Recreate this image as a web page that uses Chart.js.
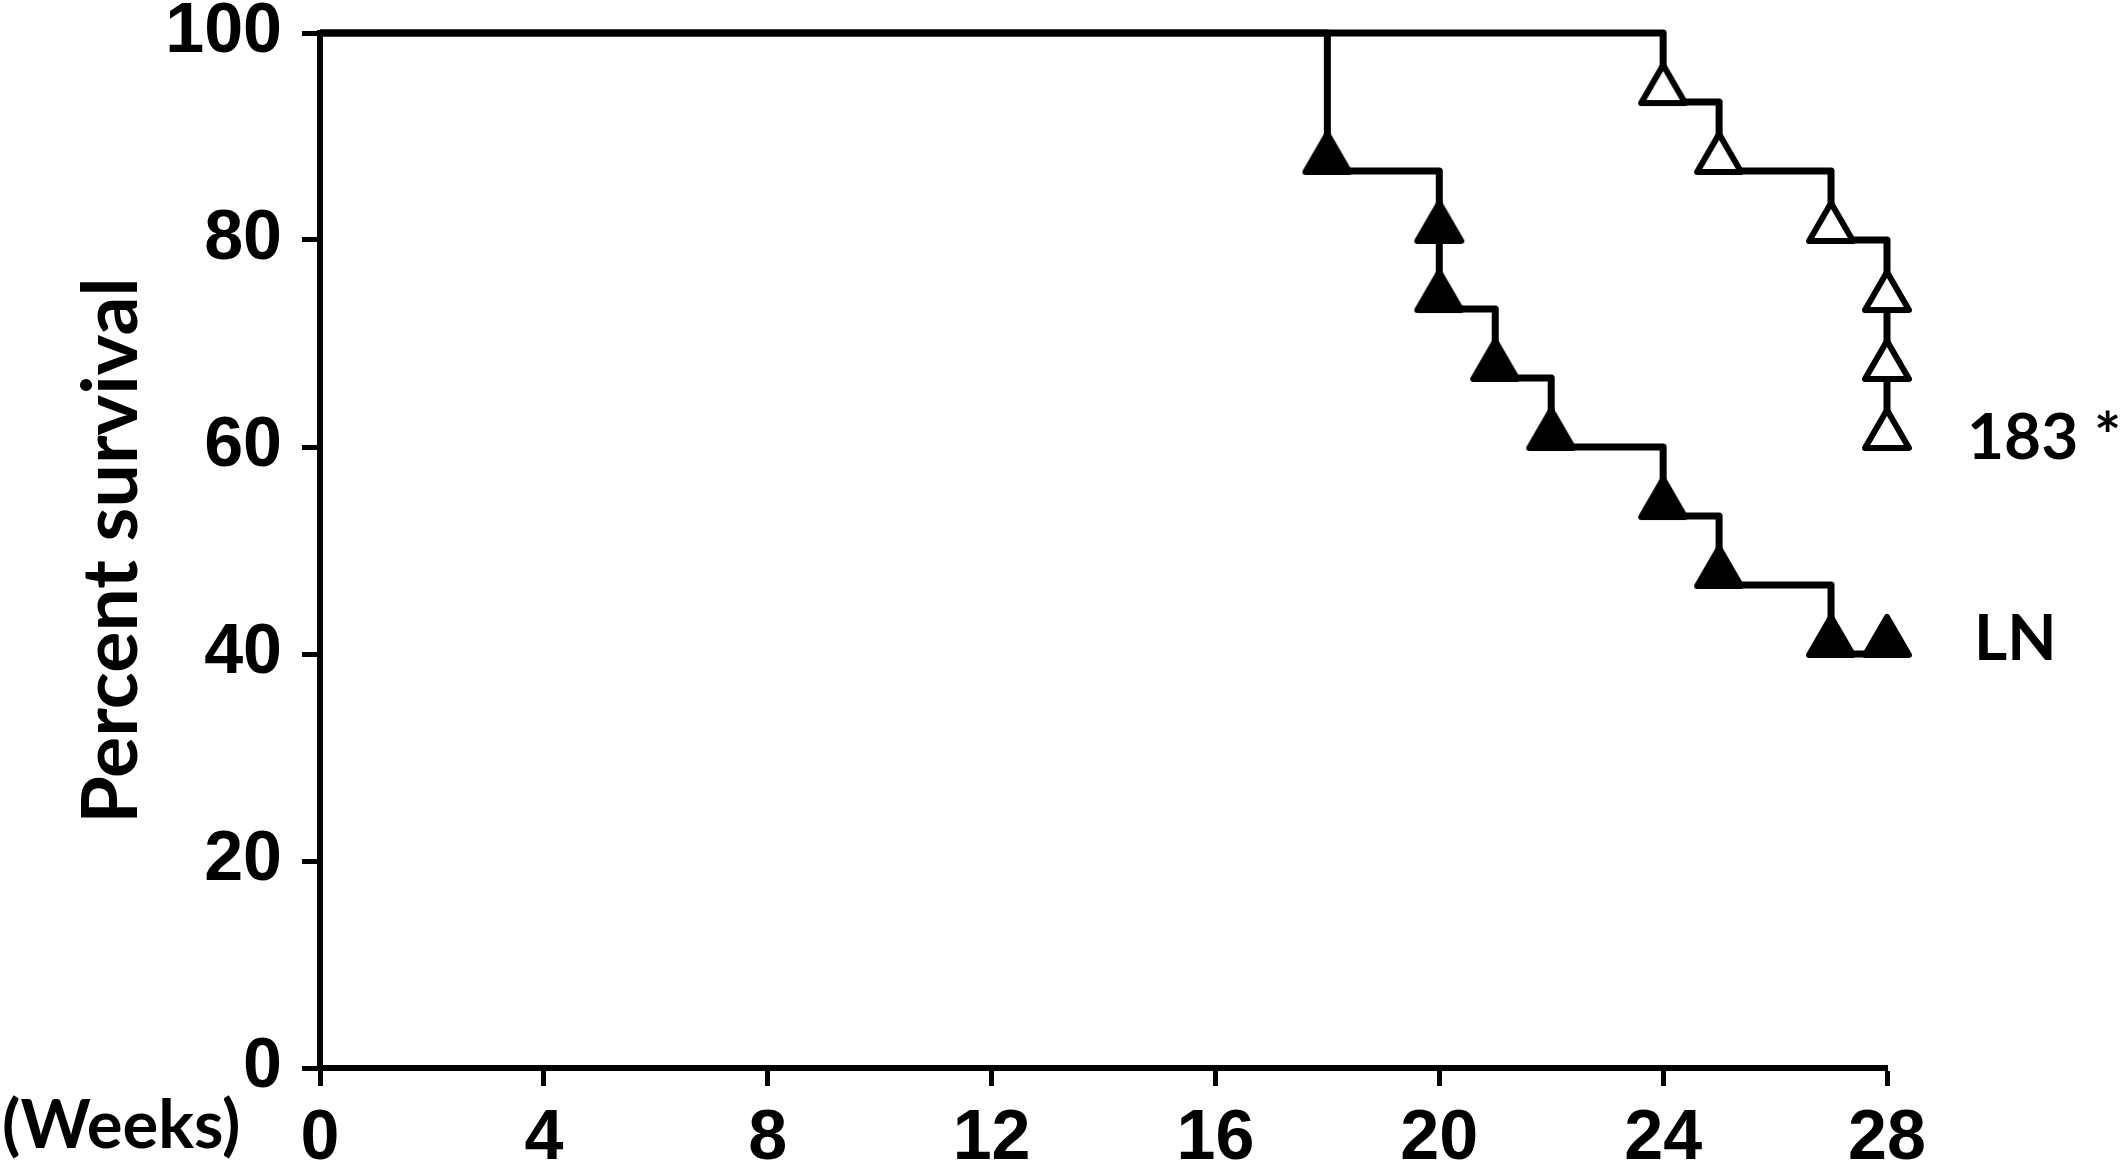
<!DOCTYPE html>
<html>
<head>
<meta charset="utf-8">
<script src="https://cdn.jsdelivr.net/npm/chart.js@4.4.1/dist/chart.umd.min.js"></script>
<style>
  html, body { margin: 0; padding: 0; background: #fff; }
</style>
</head>
<body>
<canvas id="survivalChart" width="2128" height="1172"></canvas>
<script>
// Kaplan-Meier steps: week of each event and percent survival after it
const weeksLN = [0, 18, 20, 20, 21, 22, 24, 25, 27, 28];
const survivalLN = [100, 86.67, 80, 73.33, 66.67, 60, 53.33, 46.67, 40, 40];
const weeks183 = [0, 24, 25, 27, 28, 28, 28];
const survival183 = [100, 93.33, 86.67, 80, 73.33, 66.67, 60];

// Axis ticks and labels
const xTicks = [0, 4, 8, 12, 16, 20, 24, 28];
const yTicks = [0, 20, 40, 60, 80, 100];
const seriesNames = ['183 *', 'LN'];

// Triangle symbol whose base sits on the point (like GraphPad)
function makeTriangle(filled) {
    const c = document.createElement('canvas');
    c.width = 60;
    c.height = 98;
    const g = c.getContext('2d');
    const cx = c.width / 2;
    const base = c.height / 2 + 1;
    const side = 44;
    g.beginPath();
    g.moveTo(cx, base - side * 0.866);
    g.lineTo(cx + side / 2, base);
    g.lineTo(cx - side / 2, base);
    g.closePath();
    g.lineJoin = 'round';
    g.lineWidth = 6;
    g.fillStyle = filled ? '#000' : '#fff';
    g.strokeStyle = '#000';
    g.fill();
    g.stroke();
    return c;
}

const toPoints = (xs, ys) => xs.map((x, i) => ({ x: x, y: ys[i] }));

// Series names written at the end of each curve
const endLabels = {
    id: 'endLabels',
    afterDraw(chart) {
        const { ctx, scales } = chart;
        const ends = [
            [weeks183[weeks183.length - 1], survival183[survival183.length - 1], 80, -9],
            [weeksLN[weeksLN.length - 1], survivalLN[survivalLN.length - 1], 87, -15]
        ];
        ctx.save();
        ctx.fillStyle = '#000';
        ctx.font = 'bold 64px Lato';
        ctx.textBaseline = 'middle';
        ctx.textAlign = 'left';
        ends.forEach((e, i) => {
            const px = scales.x.getPixelForValue(e[0]) + e[2];
            const py = scales.y.getPixelForValue(e[1]) + e[3];
            ctx.fillText(seriesNames[i], px, py);
        });
        // unit label left of the x tick labels
        ctx.font = 'bold 67px Lato';
        ctx.fillText('(Weeks)', 2, scales.y.getPixelForValue(0) + 58);
        ctx.restore();
    }
};

const tickFont = { family: 'Liberation Sans', weight: 'bold', size: 70 };
const axisGrid = {
    display: true,
    drawOnChartArea: false,
    drawTicks: true,
    tickLength: 18,
    tickWidth: 5,
    tickColor: '#000',
    color: '#000'
};

new Chart(document.getElementById('survivalChart'), {
    type: 'line',
    data: {
        datasets: [
            {
                data: toPoints(weeksLN, survivalLN),
                stepped: true,
                borderColor: '#000',
                borderWidth: 7,
                borderJoinStyle: 'round',
                fill: false,
                pointStyle: makeTriangle(true),
                pointRadius: ctx => ctx.dataIndex === 0 ? 0 : 20,
                clip: false
            },
            {
                data: toPoints(weeks183, survival183),
                stepped: true,
                borderColor: '#000',
                borderWidth: 7,
                borderJoinStyle: 'round',
                fill: false,
                pointStyle: makeTriangle(false),
                pointRadius: ctx => ctx.dataIndex === 0 ? 0 : 20,
                clip: false
            }
        ]
    },
    options: {
        responsive: false,
        animation: false,
        devicePixelRatio: 1,
        layout: { padding: { left: 0, top: 33, right: 241, bottom: 0 } },
        plugins: {
            legend: { display: false },
            tooltip: { enabled: false }
        },
        scales: {
            x: {
                type: 'linear',
                min: 0,
                max: 28,
                afterBuildTicks: s => { s.ticks = xTicks.map(v => ({ value: v })); },
                afterFit: s => { s.height = 104; s.paddingLeft = 0; s.paddingRight = 0; },
                border: { display: true, color: '#000', width: 6 },
                grid: axisGrid,
                ticks: {
                    color: '#000',
                    font: tickFont,
                    padding: 12,
                    maxRotation: 0,
                    autoSkip: false
                }
            },
            y: {
                type: 'linear',
                min: 0,
                max: 100,
                afterBuildTicks: s => { s.ticks = yTicks.map(v => ({ value: v })); },
                afterFit: s => { s.width = 320; s.paddingTop = 0; s.paddingBottom = 0; },
                border: { display: true, color: '#000', width: 6 },
                grid: axisGrid,
                ticks: {
                    color: '#000',
                    font: tickFont,
                    padding: 20,
                    autoSkip: false
                },
                title: {
                    display: true,
                    text: 'Percent survival',
                    color: '#000',
                    font: { family: 'Lato', weight: 'bold', size: 77 },
                    padding: { top: 66, bottom: 0 }
                }
            }
        }
    },
    plugins: [endLabels]
});
</script>
</body>
</html>
